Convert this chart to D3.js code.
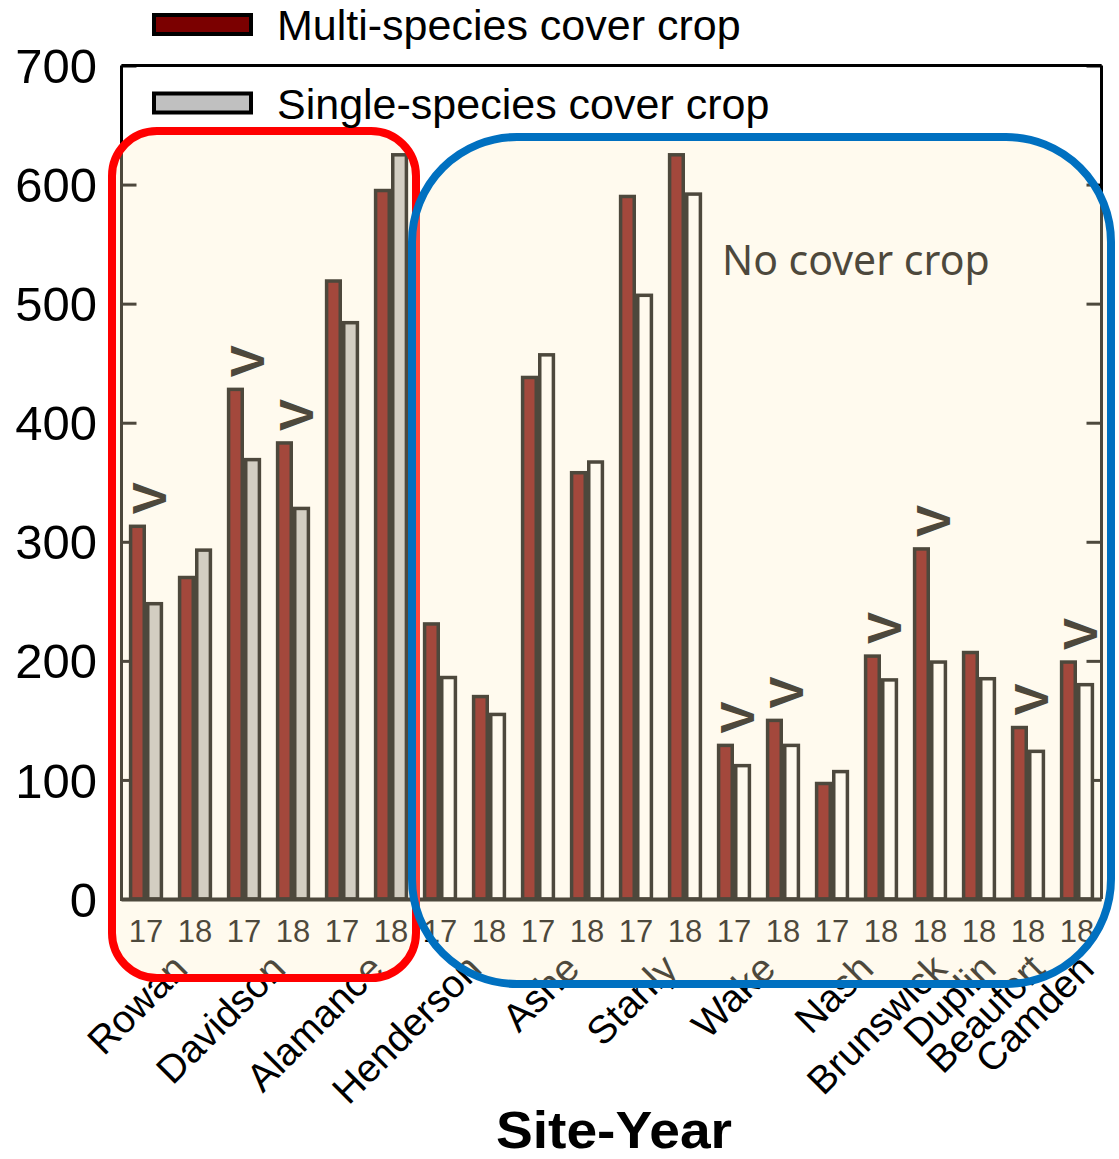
<!DOCTYPE html>
<html>
<head>
<meta charset="utf-8">
<script src="https://cdn.jsdelivr.net/npm/d3@7"></script>
<style>
  html, body { margin: 0; padding: 0; background: #ffffff; }
  svg { display: block; }
  text { font-family: "Liberation Sans", Arial, Helvetica, sans-serif; }
</style>
</head>
<body>
<svg id="chart" width="1119" height="1159"></svg>
<script>
// Site-year groups along the x axis
const groupSites = ["Rowan", "Rowan", "Davidson", "Davidson", "Alamance", "Alamance",
  "Henderson", "Henderson", "Ashe", "Ashe", "Stanly", "Stanly", "Wake", "Wake",
  "Nash", "Nash", "Brunswick", "Duplin", "Beaufort", "Camden"];
const groupYears = ["17", "18", "17", "18", "17", "18", "17", "18", "17", "18",
  "17", "18", "17", "18", "17", "18", "18", "18", "18", "18"];

// Multi-species cover crop values
const multiSpecies = [313, 270, 428, 383, 519, 595, 231, 170, 438, 358,
  590, 625, 129, 150, 97, 204, 294, 207, 144, 199];
// Comparison treatment: single-species cover crop, or no cover crop
const comparison = [248, 293, 369, 328, 484, 625, 186, 155, 457, 367,
  507, 592, 112, 129, 107, 184, 199, 185, 124, 180];
const comparisonType = ["single", "single", "single", "single", "single", "single",
  "none", "none", "none", "none", "none", "none", "none", "none",
  "none", "none", "none", "none", "none", "none"];
// Multi-species significantly greater than the comparison
const significant = [true, false, true, true, false, false, false, false, false, false,
  false, false, true, true, false, true, true, false, true, true];

const yTicks = [0, 100, 200, 300, 400, 500, 600, 700];
const legendLabels = ["Multi-species cover crop", "Single-species cover crop"];

const colors = { multi: "#7b0000", single: "#c0c0c0", none: "#ffffff" };

const svg = d3.select("#chart");
const plot = { left: 121.5, right: 1101.5, top: 65.5, bottom: 899 };

const y = d3.scaleLinear().domain([0, 700]).range([plot.bottom, plot.top]);
const x = d3.scaleBand()
  .domain(d3.range(groupSites.length))
  .range([plot.left, plot.right])
  .paddingInner(0.3)
  .paddingOuter(0.15);
const xSub = d3.scaleBand().domain(["multi", "comp"]).range([0, x.bandwidth()]);
const center = i => x(i) + x.bandwidth() / 2;

// Frame
const frame = svg.append("g").attr("stroke", "#000").attr("fill", "none");
frame.append("line").attr("x1", plot.left).attr("x2", plot.right)
  .attr("y1", plot.top).attr("y2", plot.top).attr("stroke-width", 3);
frame.append("line").attr("x1", plot.right).attr("x2", plot.right)
  .attr("y1", plot.top).attr("y2", plot.bottom).attr("stroke-width", 3);
frame.append("line").attr("x1", plot.left).attr("x2", plot.left)
  .attr("y1", plot.top).attr("y2", plot.bottom + 2).attr("stroke-width", 3);

// Inward ticks on both sides
const leftAxis = d3.axisLeft(y).tickValues(yTicks).tickSize(-15).tickFormat("");
const rightAxis = d3.axisRight(y).tickValues(yTicks).tickSize(-15).tickFormat("");
svg.append("g").attr("transform", `translate(${plot.left},0)`).call(leftAxis)
  .call(g => g.select(".domain").remove())
  .call(g => g.selectAll("line").attr("stroke", "#000").attr("stroke-width", 3));
svg.append("g").attr("transform", `translate(${plot.right},0)`).call(rightAxis)
  .call(g => g.select(".domain").remove())
  .call(g => g.selectAll("line").attr("stroke", "#000").attr("stroke-width", 3));

// Bars
const sw = 3.5;
const barData = [];
groupSites.forEach((s, i) => {
  barData.push({ i, key: "multi", v: multiSpecies[i], fill: colors.multi });
  barData.push({ i, key: "comp", v: comparison[i], fill: colors[comparisonType[i]] });
});
svg.append("g").selectAll("rect").data(barData).join("rect")
  .attr("x", d => x(d.i) + xSub(d.key) + sw / 2)
  .attr("width", xSub.bandwidth() - sw)
  .attr("y", d => y(d.v))
  .attr("height", d => y(0) - y(d.v))
  .attr("fill", d => d.fill)
  .attr("stroke", "#000")
  .attr("stroke-width", sw);

// Baseline
svg.append("line").attr("x1", plot.left).attr("x2", plot.right)
  .attr("y1", plot.bottom + 0.5).attr("y2", plot.bottom + 0.5)
  .attr("stroke", "#000").attr("stroke-width", 4);

// Significance markers
svg.append("g").selectAll("text")
  .data(d3.range(groupSites.length).filter(i => significant[i]))
  .join("text")
  .attr("transform", i => `translate(${center(i) + 3},${y(multiSpecies[i]) - 28}) rotate(-90)`)
  .attr("text-anchor", "middle")
  .attr("dy", "0.36em")
  .attr("font-size", 48)
  .attr("font-weight", "bold")
  .attr("fill", "#000")
  .text("V");

// Year labels
svg.append("g").selectAll("text").data(groupYears).join("text")
  .attr("x", (d, i) => center(i))
  .attr("y", 942)
  .attr("text-anchor", "middle")
  .attr("font-size", 31)
  .attr("fill", "#000")
  .text(d => d);

// Site labels, rotated
const siteNames = Array.from(new Set(groupSites));
svg.append("g").selectAll("text").data(siteNames).join("text")
  .attr("transform", s => {
    const idx = d3.range(groupSites.length).filter(i => groupSites[i] === s);
    const cx = d3.mean(idx, center) + 19;
    return `translate(${cx},971) rotate(-45)`;
  })
  .attr("text-anchor", "end")
  .attr("font-size", 39)
  .attr("fill", "#000")
  .text(s => s);

// Group annotation
svg.append("text")
  .attr("x", 722).attr("y", 275)
  .attr("font-size", 41)
  .attr("fill", "#000")
  .style("font-family", "'Noto Sans', 'Open Sans', sans-serif")
  .text("No cover crop");

// Highlight boxes (translucent cream wash)
svg.append("rect")
  .attr("x", 112).attr("y", 131).attr("width", 304).attr("height", 847)
  .attr("rx", 45).attr("ry", 45)
  .attr("fill", "rgb(255,240,200)").attr("fill-opacity", 0.3)
  .attr("stroke", "#ff0000").attr("stroke-width", 8);
svg.append("rect")
  .attr("x", 412).attr("y", 137).attr("width", 699).attr("height", 847)
  .attr("rx", 105).attr("ry", 105)
  .attr("fill", "rgb(255,240,200)").attr("fill-opacity", 0.3)
  .attr("stroke", "#0070c0").attr("stroke-width", 8);

// Y tick labels
svg.append("g").selectAll("text").data(yTicks).join("text")
  .attr("x", 97)
  .attr("y", d => y(d))
  .attr("dy", "0.36em")
  .attr("text-anchor", "end")
  .attr("font-size", 49)
  .attr("fill", "#000")
  .text(d => d);

// Legend
const legend = svg.append("g");
legendLabels.forEach((lab, k) => {
  const ly = 24.5 + k * 78.5;
  legend.append("rect")
    .attr("x", 154).attr("y", ly - 9.5).attr("width", 97).attr("height", 19)
    .attr("fill", k === 0 ? colors.multi : colors.single)
    .attr("stroke", "#000").attr("stroke-width", 4);
  legend.append("text")
    .attr("x", 277).attr("y", ly + 15.5)
    .attr("font-size", 43)
    .attr("fill", "#000")
    .text(lab);
});

// Axis title
svg.append("text")
  .attr("x", 614).attr("y", 1148)
  .attr("text-anchor", "middle")
  .attr("font-size", 52)
  .attr("font-weight", "bold")
  .attr("textLength", 236)
  .attr("lengthAdjust", "spacingAndGlyphs")
  .attr("fill", "#000")
  .text("Site-Year");
</script>
</body>
</html>
